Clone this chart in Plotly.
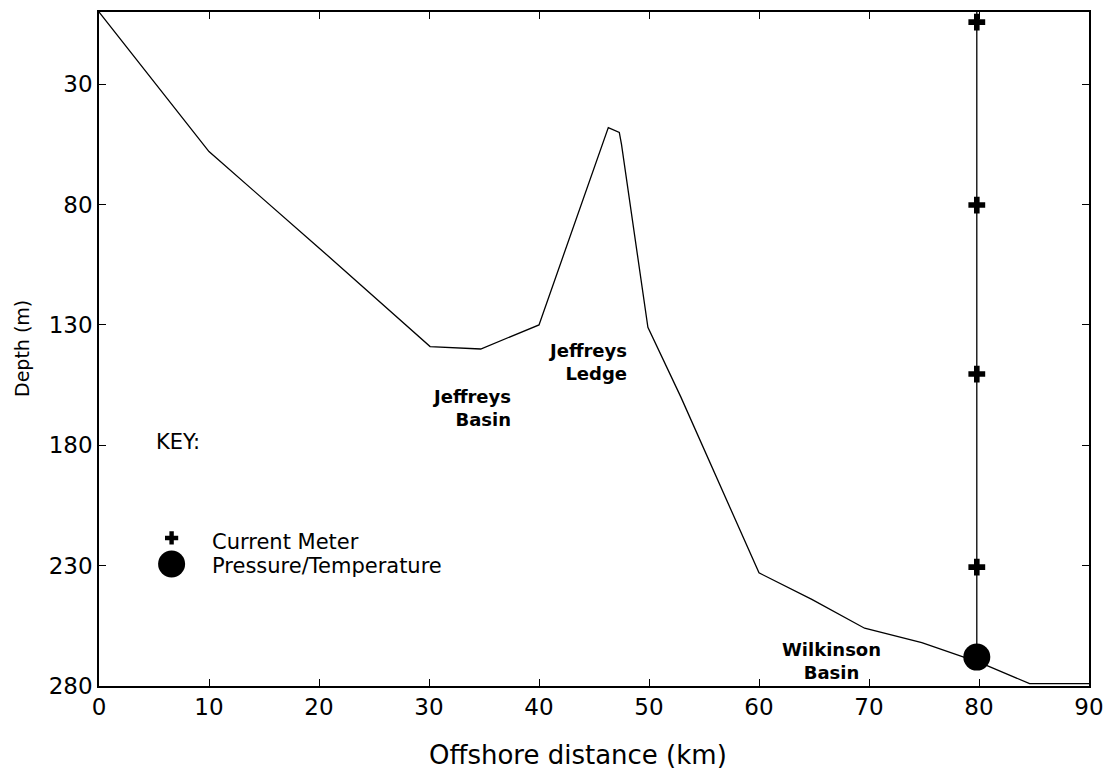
import plotly.graph_objects as go

# Bathymetric profile
distance_km = [0, 10, 20, 30.1, 34.7, 40.0, 46.3, 47.3, 47.5, 49.9, 52.9, 60.0, 64.8, 69.6, 74.8, 80.2, 84.6, 90]
depth_m = [0, 58, 98, 139, 140, 130, 48, 50, 55, 131, 160, 233, 244, 256, 262, 270.5, 279, 279]

# Mooring at 80 km
mooring_x = [79.8, 79.8]
mooring_depth = [0, 268]
meter_x = [79.8, 79.8, 79.8, 79.8]
meter_depth = [4.2, 80.2, 150.4, 230.6]
pt_x = [79.8]
pt_depth = [268]

# Key
key_marker_x = [6.6, 6.6]
key_depth = [218.5, 229.3]
key_text_depth = [220.0, 230.3]
key_labels = ["Current Meter", "Pressure/Temperature"]
key_text_x = 10.1

# Place labels
place_x = [37.6, 48.2, 66.6]
place_depth = [164.5, 145.5, 269.5]
place_anchor = ["right", "right", "center"]
place_labels = ["Jeffreys<br>Basin", "Jeffreys<br>Ledge", "Wilkinson<br>Basin"]

xticks = [0, 10, 20, 30, 40, 50, 60, 70, 80, 90]
yticks = [30, 80, 130, 180, 230, 280]

font_family = "DejaVu Sans, Liberation Sans, Arial, sans-serif"

fig = go.Figure()
fig.add_trace(go.Scatter(x=distance_km, y=depth_m, mode="lines",
                         line=dict(color="black", width=1.3), showlegend=False))
fig.add_trace(go.Scatter(x=mooring_x, y=mooring_depth, mode="lines",
                         line=dict(color="black", width=1.3), showlegend=False))
fig.add_trace(go.Scatter(x=meter_x, y=meter_depth, mode="markers",
                         marker=dict(symbol="cross", size=14, color="black"), showlegend=False))
fig.add_trace(go.Scatter(x=pt_x, y=pt_depth, mode="markers",
                         marker=dict(symbol="circle", size=27, color="black"), showlegend=False))
# Key markers
fig.add_trace(go.Scatter(x=key_marker_x[:1], y=key_depth[:1], mode="markers",
                         marker=dict(symbol="cross", size=11, color="black"), showlegend=False))
fig.add_trace(go.Scatter(x=key_marker_x[1:], y=key_depth[1:], mode="markers",
                         marker=dict(symbol="circle", size=27, color="black"), showlegend=False))

fig.add_annotation(x=5.0, y=178.6, text="KEY:", showarrow=False, xanchor="left",
                   font=dict(size=21, color="black", family=font_family))
for ky, lab in zip(key_text_depth, key_labels):
    fig.add_annotation(x=key_text_x, y=ky, text=lab, showarrow=False, xanchor="left",
                       font=dict(size=21, color="black", family=font_family))
for px, py, anc, lab in zip(place_x, place_depth, place_anchor, place_labels):
    fig.add_annotation(x=px, y=py, text="<b>" + lab + "</b>", showarrow=False, xanchor=anc,
                       align=anc,
                       font=dict(size=18, color="black", family=font_family))

# Axis titles
fig.add_annotation(xref="paper", yref="paper", x=0.484, y=-0.102, text="Offshore distance (km)",
                   showarrow=False, xanchor="center", yanchor="middle",
                   font=dict(size=26, color="black", family=font_family))
fig.add_annotation(xref="paper", yref="paper", x=-0.0778, y=0.5015, text="Depth (m)",
                   showarrow=False, xanchor="center", yanchor="middle", textangle=-90,
                   font=dict(size=19, color="black", family=font_family))

axis_common = dict(showgrid=False, zeroline=False, showline=True, linecolor="black",
                   linewidth=1.5, mirror="ticks", ticks="inside", ticklen=7, automargin=False,
                   tickcolor="black", tickfont=dict(size=23, color="black", family=font_family))
fig.update_xaxes(range=[0, 90], tickvals=xticks, ticktext=[str(v) for v in xticks],
                 **axis_common)
fig.update_yaxes(range=[280, 0], tickvals=yticks, ticktext=[str(v) for v in yticks],
                 **axis_common)
fig.update_layout(width=1107, height=770, plot_bgcolor="white", paper_bgcolor="white",
                  margin=dict(l=99, r=18, t=12, b=84))
fig.write_html("out.html")
